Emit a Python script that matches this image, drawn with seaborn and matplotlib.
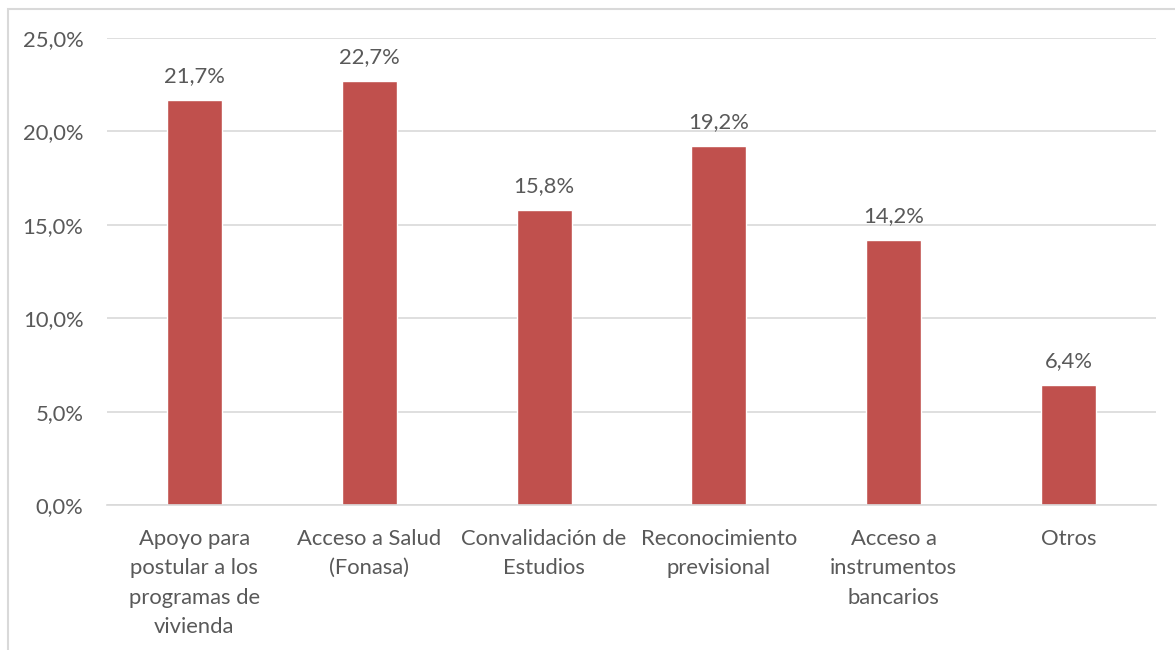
import matplotlib
matplotlib.use("Agg")
import matplotlib.pyplot as plt
import seaborn as sns
import pandas as pd
from matplotlib.patches import Rectangle
from matplotlib.ticker import FuncFormatter

categories = [
    "Apoyo para\npostular a los\nprogramas de\nvivienda",
    "Acceso a Salud\n(Fonasa)",
    "Convalidación de\nEstudios",
    "Reconocimiento\nprevisional",
    "Acceso a\ninstrumentos\nbancarios",
    "Otros",
]
values = [21.7, 22.7, 15.8, 19.2, 14.2, 6.4]
yticks = [0, 5, 10, 15, 20, 25]

sns.set_theme(style="white")
plt.rcParams["font.family"] = ["Lato", "DejaVu Sans"]

TEXT = "#595959"
GRID = "#d9d9d9"
BAR = "#c0504d"
FS = 15.8

df = pd.DataFrame({"cat": categories, "val": values})

fig = plt.figure(figsize=(11.75, 6.5), dpi=100)
ax = fig.add_axes([107 / 1175, 1 - 505 / 650, (1156 - 107) / 1175, (505 - 38) / 650])

sns.barplot(data=df, x="cat", y="val", color=BAR, width=0.314, saturation=1, ax=ax)

ax.set_ylim(0, 25)
ax.set_yticks(yticks)
ax.yaxis.set_major_formatter(FuncFormatter(lambda v, p: f"{v:.1f}%".replace(".", ",")))
ax.grid(axis="y", color=GRID, linewidth=1.2)
ax.set_axisbelow(True)
for s in ["top", "right", "left"]:
    ax.spines[s].set_visible(False)
ax.spines["bottom"].set_color(GRID)
ax.spines["bottom"].set_linewidth(1.2)
ax.tick_params(axis="y", length=0, pad=17, labelsize=FS, labelcolor=TEXT)
ax.tick_params(axis="x", length=0, pad=17, labelsize=FS, labelcolor=TEXT)
for lbl in ax.get_xticklabels():
    lbl.set_linespacing(1.6)
ax.set_xlabel("")
ax.set_ylabel("")

for i, v in enumerate(values):
    ax.annotate(f"{v:.1f}%".replace(".", ","), (i, v), xytext=(0, 10),
                textcoords="offset points", ha="center", va="bottom",
                fontsize=FS, color=TEXT)

fig.patches.append(Rectangle((7.5 / 1175, -0.1), 1.2, 1 - 8.5 / 650 + 0.1,
                             transform=fig.transFigure, fill=False,
                             edgecolor=GRID, linewidth=1.5))

fig.savefig("out.png", dpi=100)
